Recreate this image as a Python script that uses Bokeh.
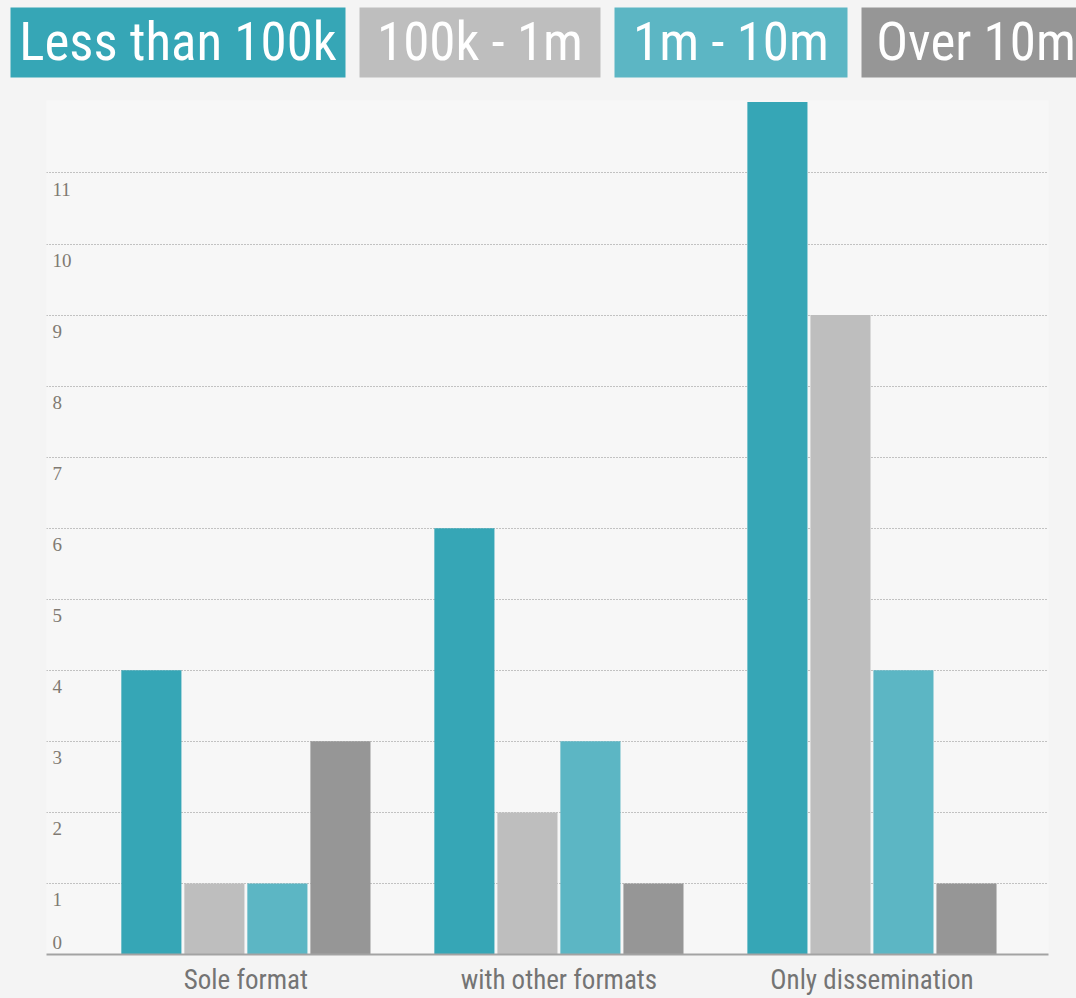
from bokeh.plotting import figure
from bokeh.models import ColumnDataSource, Range1d, FixedTicker, GlobalInlineStyleSheet
from bokeh.transform import dodge
from bokeh.layouts import column
from bokeh.core.properties import value
from bokeh.embed import file_html
from bokeh.resources import INLINE

# ---------------- data ----------------
categories = ["Sole format", "with other formats", "Only dissemination"]
series = ["Less than 100k", "100k - 1m", "1m - 10m", "Over 10m"]
less_than_100k = [4, 6, 12]
from_100k_to_1m = [1, 2, 9]
from_1m_to_10m = [1, 3, 4]
over_10m = [3, 1, 1]
y_ticks = [0, 1, 2, 3, 4, 5, 6, 7, 8, 9, 10, 11]
y_tick_labels = ["0", "1", "2", "3", "4", "5", "6", "7", "8", "9", "10", "11"]

# ---------------- style / layout ----------------
colors = ["#36a6b6", "#bebebe", "#5cb6c4", "#969696"]
page_bg = "#f4f4f4"
panel_bg = "#f7f7f7"
cond_font = "Roboto Condensed"
serif_font = "Liberation Serif"
W = 1076
LEG_H = 100
MAIN_H = 898
dodge_offsets = [-0.302, -0.1006, 0.1006, 0.302]
bar_width = 0.192
x_start, x_end = -0.637, 2.564
y_end = 12.02
legend_lefts = [10, 359, 614, 861]
legend_rights = [345, 600, 847, 1090]
legend_box_top, legend_box_bottom = 7, 77
legend_text_mid = 41

# ---------------- legend figure ----------------
leg = figure(width=W, height=LEG_H, x_range=Range1d(0, W), y_range=Range1d(LEG_H, 0),
             output_backend="svg", toolbar_location=None, min_border=0)
leg.axis.visible = False
leg.grid.visible = False
leg.outline_line_color = None
leg.background_fill_color = page_bg
leg.border_fill_color = page_bg

leg_src = ColumnDataSource(dict(
    left=legend_lefts, right=legend_rights,
    top=[legend_box_top] * len(series), bottom=[legend_box_bottom] * len(series),
    cx=[(l + r) / 2 for l, r in zip(legend_lefts, legend_rights)],
    cy=[legend_text_mid] * len(series),
    name=series, color=colors,
))
leg.quad(left="left", right="right", top="top", bottom="bottom", fill_color="color",
         line_color=None, source=leg_src)
leg.text(x="cx", y="cy", text="name", source=leg_src, text_color="white",
         text_font=value(cond_font), text_font_size="53px",
         text_align="center", text_baseline="middle")

# ---------------- main figure ----------------
src = ColumnDataSource(dict(
    idx=list(range(len(categories))), cat=categories,
    s0=less_than_100k, s1=from_100k_to_1m, s2=from_1m_to_10m, s3=over_10m,
))

p = figure(width=W, height=MAIN_H, x_range=Range1d(x_start, x_end), y_range=Range1d(0, y_end),
           output_backend="svg", toolbar_location=None,
           min_border_left=46, min_border_right=28, min_border_top=0, min_border_bottom=41)
p.background_fill_color = panel_bg
p.border_fill_color = page_bg
p.outline_line_color = None

for i, key in enumerate(["s0", "s1", "s2", "s3"]):
    p.vbar(x=dodge("idx", dodge_offsets[i], range=p.x_range), top=key, width=bar_width,
           source=src, fill_color=colors[i], line_color=None)

p.yaxis.visible = False
p.xgrid.visible = False
p.ygrid.ticker = FixedTicker(ticks=y_ticks[1:])
p.ygrid.grid_line_color = "#8c8c8c"
p.ygrid.grid_line_dash = "1 2"
p.ygrid.grid_line_width = 1

xa = p.xaxis[0]
xa.ticker = FixedTicker(ticks=list(range(len(categories))))
xa.major_label_overrides = {i: c for i, c in enumerate(categories)}
xa.axis_line_color = "#a3a3a3"
xa.axis_line_width = 2
xa.major_tick_line_color = None
xa.minor_tick_line_color = None
xa.major_tick_out = 0
xa.major_tick_in = 0
xa.major_label_standoff = 9
xa.major_label_text_font = cond_font
xa.major_label_text_font_size = "27px"
xa.major_label_text_color = "#747474"

# y tick labels drawn inside the plot area
tick_src = ColumnDataSource(dict(
    x=[x_start] * (len(y_ticks) - 1), y=y_ticks[1:], t=y_tick_labels[1:],
))
p.text(x="x", y="y", text="t", source=tick_src, x_offset=6, y_offset=10,
       text_font=value(serif_font), text_font_size="19px", text_color="#807a72",
       text_align="left", text_baseline="top")
zero_src = ColumnDataSource(dict(x=[x_start], y=y_ticks[:1], t=y_tick_labels[:1]))
p.text(x="x", y="y", text="t", source=zero_src, x_offset=6, y_offset=-6,
       text_font=value(serif_font), text_font_size="19px", text_color="#807a72",
       text_align="left", text_baseline="bottom")

layout = column(column(leg), column(p), spacing=0,
                stylesheets=[GlobalInlineStyleSheet(css="body { background: %s; }" % page_bg)])

open("out.html", "w").write(file_html(layout, INLINE))
